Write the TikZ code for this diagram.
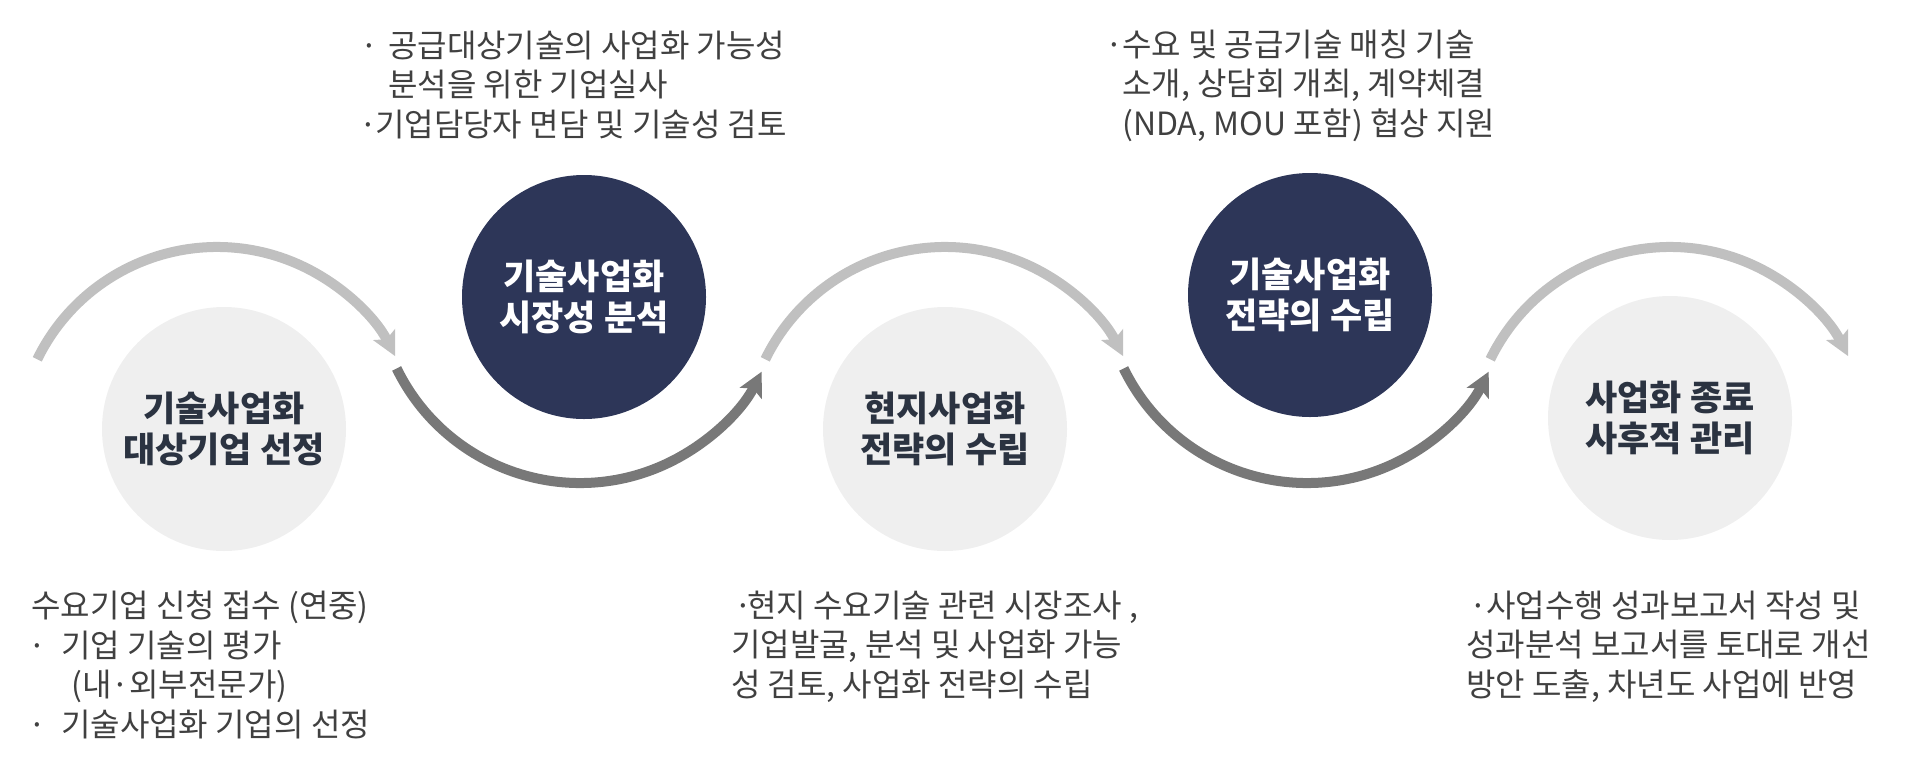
\documentclass[tikz,border=0pt]{standalone}
\usepackage{fontspec}
\setmainfont{Noto Sans CJK KR}
\usetikzlibrary{arrows.meta,calc}
\definecolor{navy}{HTML}{2D3658}
\definecolor{lightfill}{HTML}{EFEFEF}
\definecolor{arcl}{HTML}{C0C0C0}
\definecolor{arcd}{HTML}{787878}
\definecolor{titlec}{HTML}{2B3341}
\definecolor{bodyc}{HTML}{404040}
\newcommand\dotat[1]{\makebox[0pt][l]{\hspace*{#1pt}\makebox[0pt][c]{·}}}
\begin{document}
\begin{tikzpicture}[x=1pt,y=-1pt,
  lightc/.style={circle, fill=lightfill, minimum size=244pt, inner sep=0pt, text=titlec,
    font=\fontsize{35}{41.5}\selectfont\bfseries, align=center},
  darkc/.style={circle, fill=navy, minimum size=244pt, inner sep=0pt, text=white,
    font=\fontsize{35}{41.5}\selectfont\bfseries, align=center},
  body/.style={text=bodyc, font=\fontsize{32}{39.5}\selectfont, align=left, inner sep=0pt, anchor=base west},
  toparc/.style={draw=arcl, line width=10pt, -{Stealth[length=24pt,width=24pt,inset=5pt]}},
  botarc/.style={draw=arcd, line width=10pt, -{Stealth[length=24pt,width=24pt,inset=5pt]}}
]
\useasboundingbox (0,0) rectangle (1914,766);

% circles
\node[lightc] (c1) at (224,429) {기술사업화\\대상기업 선정};
\node[darkc]  (c2) at (584,297) {기술사업화\\시장성 분석};
\node[lightc] (c3) at (945,429) {현지사업화\\전략의 수립};
\node[darkc]  (c4) at (1310,295) {기술사업화\\전략의 수립};
\node[lightc] (c5) at (1670,418) {사업화 종료\\사후적 관리};

% arc centres
\coordinate (a1) at (217,447);
\coordinate (a2) at (580,279);
\coordinate (a3) at (945,447);
\coordinate (a4) at (1307,279);
\coordinate (a5) at (1670,447);

\draw[toparc] ($(a1)+(-154:200)$) arc[start angle=-154, end angle=-27, radius=200];
\draw[botarc] ($(a2)+(154:204)$) arc[start angle=154, end angle=27, radius=204];
\draw[toparc] ($(a3)+(-154:200)$) arc[start angle=-154, end angle=-27, radius=200];
\draw[botarc] ($(a4)+(154:204)$) arc[start angle=154, end angle=27, radius=204];
\draw[toparc] ($(a5)+(-154:200)$) arc[start angle=-154, end angle=-27, radius=200];

% text blocks (anchor = baseline of last line)
\node[body] (t1) at (31,736) {수요기업 신청 접수 (연중)\\
\dotat{6}\hspace*{30pt}기업 기술의 평가\\
\hspace*{40pt}(내·외부전문가)\\
\dotat{6}\hspace*{30pt}기술사업화 기업의 선정};

\node[body] (t2) at (357,136) {\dotat{12}\hspace*{31pt}공급대상기술의 사업화 가능성\\
\hspace*{31pt}분석을 위한 기업실사\\
\dotat{11}\hspace*{18pt}기업담당자 면담 및 기술성 검토};

\node[body] (t3) at (1111,135) {\dotat{3}\hspace*{11pt}수요 및 공급기술 매칭 기술\\
\hspace*{11pt}소개, 상담회 개최, 계약체결\\
\hspace*{11pt}(NDA, MOU 포함) 협상 지원};

\node[body] (t4) at (731,696) {\dotat{12}\hspace*{16pt}현지 수요기술 관련 시장조사 ,\\
기업발굴, 분석 및 사업화 가능\\
성 검토, 사업화 전략의 수립};

\node[body] (t5) at (1466,696) {\dotat{12}\hspace*{20pt}사업수행 성과보고서 작성 및\\
성과분석 보고서를 토대로 개선\\
방안 도출, 차년도 사업에 반영};
\end{tikzpicture}
\end{document}
